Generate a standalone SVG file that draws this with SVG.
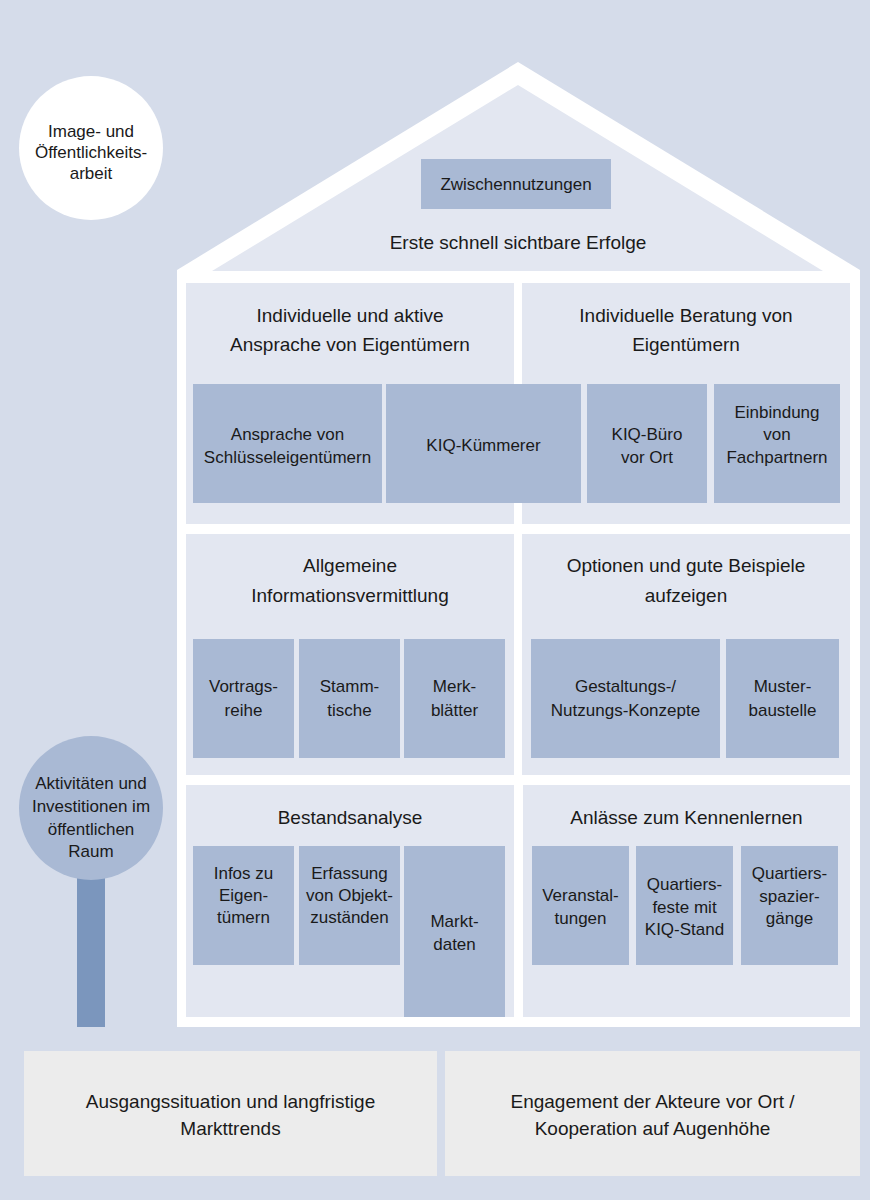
<svg xmlns="http://www.w3.org/2000/svg" width="870" height="1200" viewBox="0 0 870 1200">
<style>
text{font-family:"Liberation Sans",Arial,sans-serif;fill:#1a1a1a;text-anchor:middle}
.t{font-size:19px}
.s{font-size:17px}
.panel{fill:#e3e7f1}
.box{fill:#a9b9d4}
.base{fill:#ececec}
</style>
<rect x="0" y="0" width="870" height="1200" fill="#d5dcea"/>
<g id="house">
<polygon points="177,270 518,62 860,270 860,1027 177,1027" fill="#ffffff"/>
<polygon points="518,85 212,271 823,271" class="panel"/>
</g>
<g id="roof">
<rect x="421" y="159" width="190" height="50" class="box"/>
<text class="s" x="516" y="190">Zwischennutzungen</text>
<text class="t" x="518" y="249">Erste schnell sichtbare Erfolge</text>
</g>
<g id="panel-ansprache">
<rect x="186" y="283" width="328" height="241" class="panel"/>
<text class="t" x="350" y="322">Individuelle und aktive</text>
<text class="t" x="350" y="351">Ansprache von Eigentümern</text>
</g>
<g id="panel-beratung">
<rect x="522" y="283" width="328" height="241" class="panel"/>
<text class="t" x="686" y="322">Individuelle Beratung von</text>
<text class="t" x="686" y="351">Eigentümern</text>
</g>
<g id="box-schluessel">
<rect x="193" y="384" width="189" height="119" class="box"/>
<text class="s" x="287.5" y="440">Ansprache von</text>
<text class="s" x="287.5" y="463">Schlüsseleigentümern</text>
</g>
<g id="box-kuemmerer">
<rect x="386" y="384" width="195" height="119" class="box"/>
<text class="s" x="483.5" y="451">KIQ-Kümmerer</text>
</g>
<g id="box-buero">
<rect x="587" y="384" width="120" height="119" class="box"/>
<text class="s" x="647" y="440">KIQ-Büro</text>
<text class="s" x="647" y="463">vor Ort</text>
</g>
<g id="box-fachpartner">
<rect x="714" y="384" width="126" height="119" class="box"/>
<text class="s" x="777" y="418">Einbindung</text>
<text class="s" x="777" y="440">von</text>
<text class="s" x="777" y="463">Fachpartnern</text>
</g>
<g id="panel-information">
<rect x="186" y="534" width="328" height="241" class="panel"/>
<text class="t" x="350" y="572">Allgemeine</text>
<text class="t" x="350" y="602">Informationsvermittlung</text>
</g>
<g id="panel-optionen">
<rect x="522" y="534" width="328" height="241" class="panel"/>
<text class="t" x="686" y="572">Optionen und gute Beispiele</text>
<text class="t" x="686" y="602">aufzeigen</text>
</g>
<g id="box-vortrag">
<rect x="193" y="639" width="101" height="119" class="box"/>
<text class="s" x="243.5" y="692">Vortrags-</text>
<text class="s" x="243.5" y="716">reihe</text>
</g>
<g id="box-stamm">
<rect x="299" y="639" width="101" height="119" class="box"/>
<text class="s" x="349.5" y="692">Stamm-</text>
<text class="s" x="349.5" y="716">tische</text>
</g>
<g id="box-merk">
<rect x="404" y="639" width="101" height="119" class="box"/>
<text class="s" x="454.5" y="692">Merk-</text>
<text class="s" x="454.5" y="716">blätter</text>
</g>
<g id="box-konzepte">
<rect x="531" y="639" width="189" height="119" class="box"/>
<text class="s" x="625.5" y="692">Gestaltungs-/</text>
<text class="s" x="625.5" y="716">Nutzungs-Konzepte</text>
</g>
<g id="box-muster">
<rect x="726" y="639" width="113" height="119" class="box"/>
<text class="s" x="782.5" y="692">Muster-</text>
<text class="s" x="782.5" y="716">baustelle</text>
</g>
<g id="panel-bestand">
<rect x="186" y="785" width="328" height="232" class="panel"/>
<text class="t" x="350" y="824">Bestandsanalyse</text>
</g>
<g id="panel-anlaesse">
<rect x="523" y="785" width="327" height="232" class="panel"/>
<text class="t" x="686.5" y="824">Anlässe zum Kennenlernen</text>
</g>
<g id="box-infos">
<rect x="193" y="846" width="101" height="119" class="box"/>
<text class="s" x="243.5" y="879">Infos zu</text>
<text class="s" x="243.5" y="901">Eigen-</text>
<text class="s" x="243.5" y="923">tümern</text>
</g>
<g id="box-erfassung">
<rect x="299" y="846" width="101" height="119" class="box"/>
<text class="s" x="349.5" y="879">Erfassung</text>
<text class="s" x="349.5" y="901">von Objekt-</text>
<text class="s" x="349.5" y="923">zuständen</text>
</g>
<g id="box-marktdaten">
<rect x="404" y="846" width="101" height="171" class="box"/>
<text class="s" x="454.5" y="927">Markt-</text>
<text class="s" x="454.5" y="950">daten</text>
</g>
<g id="box-veranstaltungen">
<rect x="532" y="846" width="97" height="119" class="box"/>
<text class="s" x="580.5" y="901">Veranstal-</text>
<text class="s" x="580.5" y="924">tungen</text>
</g>
<g id="box-feste">
<rect x="636" y="846" width="97" height="119" class="box"/>
<text class="s" x="684.5" y="890">Quartiers-</text>
<text class="s" x="684.5" y="913">feste mit</text>
<text class="s" x="684.5" y="935">KIQ-Stand</text>
</g>
<g id="box-spaziergaenge">
<rect x="741" y="846" width="97" height="119" class="box"/>
<text class="s" x="789.5" y="879">Quartiers-</text>
<text class="s" x="789.5" y="902">spazier-</text>
<text class="s" x="789.5" y="924">gänge</text>
</g>
<g id="circle-image">
<circle cx="91" cy="148" r="72" fill="#ffffff"/>
<text class="s" x="91" y="137">Image- und</text>
<text class="s" x="91" y="158">Öffentlichkeits-</text>
<text class="s" x="91" y="179">arbeit</text>
</g>
<g id="circle-raum">
<rect x="77" y="860" width="28" height="167" fill="#7b96bd"/>
<circle cx="91" cy="808" r="72" class="box"/>
<text class="s" x="91" y="789">Aktivitäten und</text>
<text class="s" x="91" y="812">Investitionen im</text>
<text class="s" x="91" y="835">öffentlichen</text>
<text class="s" x="91" y="857">Raum</text>
</g>
<g id="base-ausgang">
<rect x="24" y="1051" width="413" height="125" class="base"/>
<text class="t" x="230.5" y="1108">Ausgangssituation und langfristige</text>
<text class="t" x="230.5" y="1135">Markttrends</text>
</g>
<g id="base-engagement">
<rect x="445" y="1051" width="415" height="125" class="base"/>
<text class="t" x="652.5" y="1108">Engagement der Akteure vor Ort /</text>
<text class="t" x="652.5" y="1135">Kooperation auf Augenhöhe</text>
</g>
<g id="connectors"></g>
</svg>
